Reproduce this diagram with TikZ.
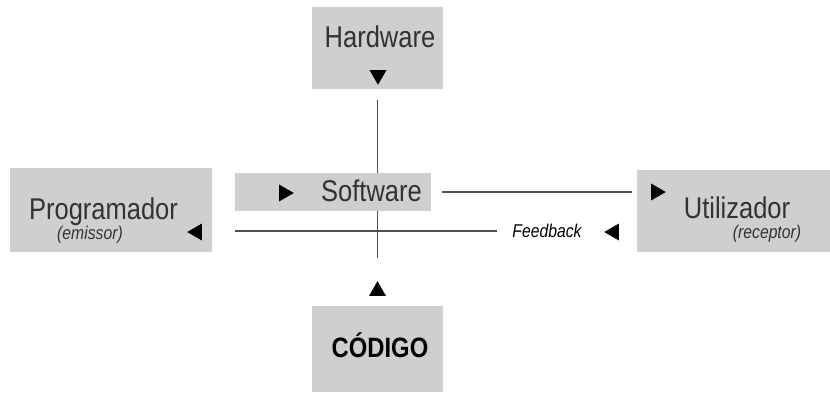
\documentclass[tikz,border=0pt]{standalone}
\usepackage{fontspec}
\setmainfont[FakeStretch=0.85]{Liberation Sans}
\usetikzlibrary{shapes.geometric}

\definecolor{boxgray}{RGB}{207,207,207}
\definecolor{inkgray}{RGB}{50,50,50}
\definecolor{linegray}{RGB}{80,80,80}
\newcommand{\bigword}{\fontsize{30}{34}\selectfont}
\newcommand{\smallword}{\fontsize{18.5}{22}\selectfont\itshape}
\newcommand{\boldword}{\fontsize{28}{32}\selectfont\bfseries}

\begin{document}
\begin{tikzpicture}[x=1pt,y=-1pt,
    box/.style={fill=boxgray, inner sep=0pt},
    word/.style={inner sep=0pt, anchor=base, text=inkgray},
    pointer/.style={regular polygon, regular polygon sides=3, fill=black, inner sep=0pt, minimum size=19.6pt},
    wire/.style={draw=linegray, line width=1.3pt}]
      \fill[white] (0,0) rectangle (830,392);
      \useasboundingbox (0,0) rectangle (830,392);

      % vertical line first, software box lies on top of it
      \node[box, minimum width=131, minimum height=82] (hwbox) at (377.5,48) {};
      \node[box, minimum width=131, minimum height=86] (codbox) at (377.5,349) {};
      \node[pointer, rotate=180] (hwtip) at (378,75) {};
      \node[pointer] (codtip) at (377.5,291) {};
      \draw[wire, shorten <=11pt, shorten >=23pt] (hwbox.south) -- (codtip.north);

      \node[box, minimum width=196, minimum height=38] (swbox) at (333,192) {};
      \node[box, minimum width=202, minimum height=84] (progbox) at (111,210) {};
      \node[box, minimum width=193, minimum height=82] (utilbox) at (733.5,211) {};

      \node[word] (hw) at (380,47) {\bigword Hardware};
      \node[word] (sw) at (371.5,201) {\bigword Software};
      \node[word] (prog) at (103.5,219) {\bigword Programador};
      \node[word] (emis) at (90,239) {\smallword (emissor)};
      \node[word] (util) at (737,218) {\bigword Utilizador};
      \node[word] (recep) at (767,238.5) {\smallword (receptor)};
      \node[word, text=black] (fb) at (547,237) {\smallword Feedback};
      \node[word, text=black] (cod) at (380,357) {\boldword CÓDIGO};

      \node[pointer, rotate=-90] (swtip) at (284,193) {};
      \node[pointer, rotate=-90] (utiltip) at (656,192) {};
      \node[pointer, rotate=90] (fbtip) at (614,232) {};
      \node[pointer, rotate=90] (progtip) at (197,232) {};

      \draw[wire, shorten <=11pt, shorten >=5pt] (swbox.east) -- (utilbox.west |- swbox.east);
      \coordinate (fbstart) at (235,231);
      \draw[wire, shorten >=15pt] (fbstart) -- (fbstart -| fb.west);
\end{tikzpicture}
\end{document}
